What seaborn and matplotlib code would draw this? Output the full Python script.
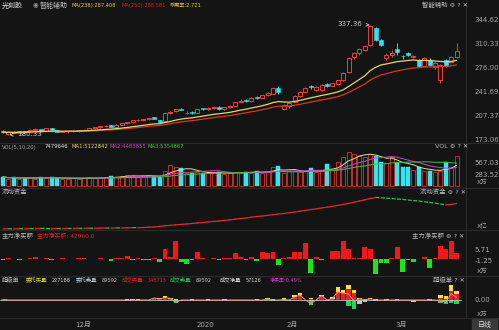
import numpy as np
import pandas as pd
import matplotlib
matplotlib.use("Agg")
import matplotlib.pyplot as plt
from matplotlib.patches import Rectangle
from matplotlib.lines import Line2D
import seaborn as sns

# ---------------- data ----------------
opens = [186.0, 182.0, 185.0, 183.5, 186.0, 184.5, 187.5, 188.5, 186.5, 189.5,
         187.0, 184.5, 185.5, 186.0, 186.5, 187.0, 188.0, 190.0, 191.0, 192.5,
         194.5, 192.0, 195.0, 197.0, 198.5, 201.0, 201.5, 202.5, 205.5, 201.0,
         199.5, 212.0, 214.0, 218.0, 211.5, 213.0, 211.5, 218.5, 217.0, 219.5,
         220.5, 217.0, 220.0, 222.0, 227.0, 230.0, 228.5, 235.0, 233.0, 237.0,
         239.5, 247.5, 217.5, 222.0, 228.0, 236.0, 242.0, 250.0, 245.0, 244.0,
         253.0, 250.5, 252.5, 259.0, 270.0, 291.0, 297.0, 302.0, 309.0, 333.0,
         316.0, 290.0, 294.5, 303.0, 293.5, 297.0, 292.0, 287.5, 279.0, 288.0,
         277.0, 258.5, 287.0, 285.0, 292.0]
highs = [187.0, 184.5, 185.5, 186.0, 186.5, 188.5, 189.5, 189.0, 190.5, 190.0,
         187.5, 186.5, 186.5, 187.0, 187.5, 188.5, 190.5, 192.0, 193.0, 194.0,
         195.0, 195.5, 197.5, 199.0, 201.5, 202.5, 203.0, 205.0, 206.5, 202.0,
         212.5, 215.0, 218.0, 219.5, 214.5, 214.0, 217.5, 219.5, 220.0, 221.0,
         221.0, 220.5, 222.5, 227.5, 232.0, 231.0, 234.0, 236.0, 237.5, 242.0,
         248.5, 250.0, 224.0, 227.0, 237.0, 243.0, 249.0, 251.5, 250.0, 252.5,
         254.0, 255.0, 259.5, 270.0, 291.0, 299.0, 305.0, 309.5, 337.36, 335.0,
         318.0, 297.0, 301.0, 311.0, 295.0, 298.5, 294.5, 289.0, 291.0, 290.0,
         284.0, 281.5, 289.0, 293.0, 311.5]
lows = [183.0, 180.33, 182.5, 183.0, 183.5, 184.0, 186.5, 186.0, 186.0, 186.5,
        184.0, 184.0, 183.5, 184.5, 185.0, 186.0, 187.5, 189.0, 190.0, 191.5,
        191.5, 191.5, 194.5, 196.0, 198.0, 199.5, 200.5, 202.0, 203.0, 197.5,
        198.5, 210.5, 213.0, 215.5, 210.0, 210.5, 211.0, 216.0, 216.5, 218.0,
        216.5, 216.5, 219.0, 221.0, 226.0, 227.5, 228.0, 232.0, 232.5, 236.0,
        238.5, 239.0, 215.5, 219.5, 227.0, 235.0, 241.0, 246.0, 243.5, 243.0,
        249.5, 250.0, 251.5, 258.0, 269.0, 289.0, 295.0, 300.5, 308.0, 315.0,
        307.0, 288.0, 292.0, 294.0, 289.0, 293.0, 290.0, 278.0, 277.0, 279.5,
        275.0, 254.0, 277.0, 283.0, 290.0]
closes = [184.0, 184.0, 183.5, 185.5, 184.0, 188.0, 188.5, 186.5, 189.5, 187.0,
          184.5, 186.0, 186.0, 186.5, 187.0, 188.0, 190.0, 191.0, 192.5, 193.5,
          192.0, 195.0, 197.0, 198.5, 201.0, 201.5, 202.5, 204.5, 203.5, 199.0,
          212.0, 213.5, 217.5, 216.0, 212.0, 211.5, 217.0, 217.0, 219.5, 220.5,
          217.0, 220.0, 222.0, 227.0, 229.5, 228.5, 233.5, 233.0, 237.0, 240.5,
          247.5, 241.0, 222.5, 225.5, 236.0, 242.0, 248.0, 248.5, 249.0, 251.5,
          250.5, 254.0, 259.0, 269.5, 290.0, 297.5, 303.0, 308.0, 336.0, 316.5,
          309.0, 294.0, 298.0, 298.5, 292.5, 294.5, 293.5, 279.5, 290.0, 280.5,
          283.0, 280.5, 278.5, 291.5, 300.0]
volume = [230, 180, 210, 170, 200, 220, 180, 230, 200, 210,
          190, 170, 180, 190, 180, 200, 210, 190, 200, 210,
          240, 230, 250, 280, 250, 230, 240, 270, 250, 230,
          360, 520, 480, 440, 330, 330, 340, 330, 330, 310,
          340, 300, 320, 350, 330, 340, 330, 360, 330, 340,
          480, 490, 330, 360, 370, 350, 360, 440, 340, 360,
          540, 400, 590, 720, 850, 800, 750, 720, 800, 750,
          590, 570, 720, 570, 460, 460, 400, 460, 380, 360,
          350, 380, 590, 480, 748]
flow = [0.0, 0.3, 0.1, 0.4, 0.2, 0.5, 0.4, 0.6, 0.5, 0.3,
        0.5, 0.4, 0.6, 0.5, 0.7, 0.6, 0.8, 0.7, 0.9, 1.0,
        0.9, 1.1, 1.0, 1.2, 1.3, 1.2, 1.5, 1.8, 2.0, 2.6,
        3.2, 3.6, 4.2, 4.6, 5.0, 5.5, 6.0, 6.4, 7.0, 7.6,
        8.0, 8.6, 9.2, 9.8, 10.5, 11.0, 11.8, 12.5, 13.0, 13.6,
        14.3, 15.0, 15.5, 16.2, 17.0, 17.8, 18.6, 19.4, 20.2, 21.0,
        21.8, 22.6, 23.6, 24.6, 25.6, 26.8, 28.0, 29.2, 30.5, 31.5,
        31.2, 30.8, 30.5, 30.0, 29.6, 29.0, 28.5, 28.0, 27.2, 26.5,
        25.8, 25.0, 24.2, 24.6, 25.4]
net_buy = [-0.9, 0.6, -0.5, -0.8, -0.6, 0.3, 0.8, -0.6, 0.2, -1.2,
           -0.5, 0.2, -0.3, -0.3, 0.3, 0.1, -0.3, -0.3, 0.2, -0.4,
           -1.3, 0.3, 0.5, 1.4, -0.8, 0.3, -1.2, -1.0, 0.2, -2.0,
           6.0, 1.0, 10.8, -2.4, -3.4, -1.0, 4.0, 0.3, -0.4, 0.2,
           -1.2, 0.3, 0.2, 3.6, 1.0, -0.8, 0.8, -1.8, 4.0, 3.5,
           4.0, -4.2, 0.5, 0.8, 4.0, 4.0, 9.6, -9.0, 0.8, -1.2,
           -0.6, 4.6, 4.6, 10.6, 6.0, 0.4, 0.5, 7.0, 6.0, -9.6,
           -3.0, -3.0, 0.4, 7.0, -8.4, -1.0, -2.0, -0.6, 1.2, -6.0,
           0.3, 7.8, 6.0, 10.8, 3.6]
order_buy = [2.4, 0, 0, 0, 0, 0, 0, 0, 0, 1.2,
             0, 0, 0, 0, 0, 0, 0, 0, 0, 0,
             0, 0, 0, 3.6, 3.6, 2.4, 0, 0, 6.0, 4.8,
             10.8, 4.8, 3.6, 0, 0, 1.9, 0, 0, 1.9, 0,
             0, 1.9, 0, 0, 0, 0, 0, 1.9, 0, 6.0,
             3.6, 0, 4.3, 0, 13.2, 18.0, 0, 4.8, 0, 12.0,
             0, 7.2, 31.2, 24.0, 37.2, 24.0, 6.0, 3.6, 4.8, 2.4,
             0, 1.9, 0, 1.9, 0, 0, 0, 0, 0, 2.4,
             0, 13.2, 9.6, 36.0, 22.72]
order_sell = [0, 0, 0, 0, 0, 0, 0, 0, 0, 0,
              0, 0, 0, 0, 0, 0, 0, 0, 0, 0,
              0, 0, 0, -1.2, 0, 0, 0, 0, 0, 0,
              0, 0, -3.6, -2.4, 0, 0, 0, 0, 0, 0,
              0, 0, 0, 0, 0, 0, 0, 0, 0, 0,
              -1.2, 0, 0, -1.2, 0, 0, 0, 0, -2.4, 0,
              -2.4, 0, 0, 0, 0, 0, -8.4, -4.8, 0, -1.9,
              0, 0, 0, 0, 0, 0, -3.6, 0, 0, 0,
              0, 0, 0, 0, -8.96]
deal_buy = [1.7, 0, 0, 0, 0, 0, 0, 0, 0, 0,
            0, 0, 0, 0, 0, 0, 0, 0, 0, 0,
            0, 0, 0, 0, 0, 0, 0, 0, 4.8, 2.4,
            6.0, 3.6, 1.2, 0, 0, 0, 0, 0, 0, 0,
            0, 0, 0, 0, 0, 0, 0, 0, 0, 2.4,
            0, 0, 1.2, 0, 7.2, 12.0, 0, 2.4, 0, 10.8,
            0, 3.6, 19.2, 16.8, 27.6, 16.8, 3.6, 0, 3.6, 0,
            0, 0, 0, 0, 0, 0, 0, 0, 0, 0,
            0, 6.0, 3.6, 22.8, 14.87]
deal_sell = [0, 0, 0, 0, 0, 0, 0, 0, 0, 0,
             0, 0, 0, 0, 0, 0, 0, 0, 0, 0,
             0, 0, 0, 0, 0, 0, 0, 0, 0, 0,
             0, 0, -7.2, 0, 0, 0, 0, 0, 0, 0,
             0, 0, 0, 0, 0, 0, 0, 0, 0, 0,
             0, 0, 0, 0, 0, 0, 0, -10.8, 0, 0,
             0, 0, 0, 0, -13.2, -20.4, 0, 0, 0, 0,
             0, 0, 0, 0, 0, 0, 0, 0, 0, 0,
             0, -7.2, -9.6, -7.2, -8.96]

price_ticks = [173.06, 207.37, 241.69, 276.00, 310.33, 344.62]
vol_ticks = [283.52, 567.03]
net_ticks = [5.71, -1.25]
month_labels = ["12月", "2020", "2月", "3月"]
month_pos = [14.8, 37.4, 53.5, 73.8]

# ---------------- style ----------------
sns.set_theme(style="dark")
plt.rcParams["font.family"] = ["DejaVu Sans", "Noto Sans CJK SC"]
BG = "#141414"
RED = "#e8413a"
CYAN = "#2fe6f2"
GRAY = "#a8a8a8"
LINE = "#2b2b2b"
W, H = 499, 330

fig = plt.figure(figsize=(W / 100, H / 100), dpi=100, facecolor=BG)

def add_ax(y0, y1, x0=0, x1=462):
    ax = fig.add_axes([x0 / W, 1 - y1 / H, (x1 - x0) / W, (y1 - y0) / H])
    ax.set_facecolor(BG)
    for s in ax.spines.values():
        s.set_visible(False)
    ax.set_xlim(-0.556, 85.0)
    ax.set_xticks([])
    ax.yaxis.tick_right()
    ax.tick_params(axis="y", length=0, labelsize=5, labelcolor=GRAY, pad=9)
    ax.grid(False)
    return ax

def ftext(x, y, s, color=GRAY, size=4.6, ha="left", **kw):
    fig.text(x / W, 1 - y / H, s, color=color, fontsize=size, ha=ha, va="center", **kw)

idx = np.arange(len(closes))
o = np.array(opens); c = np.array(closes); hi = np.array(highs); lo = np.array(lows)
up = c >= o
blo = np.minimum(o, c); bhi = np.maximum(o, c)
bh = np.maximum(bhi - blo, 0.5)

# ---------------- price panel ----------------
ax = add_ax(12, 142)
ax.set_ylim(170.2, 356.0)
ax.vlines(idx[~up], lo[~up], hi[~up], color=CYAN, lw=0.7)
ax.bar(idx[~up], bh[~up], bottom=blo[~up], width=0.72, color=CYAN, edgecolor=CYAN, lw=0.4)
ax.vlines(idx[up], bhi[up], hi[up], color=RED, lw=0.7)
ax.vlines(idx[up], lo[up], blo[up], color=RED, lw=0.7)
ax.bar(idx[up], bh[up], bottom=blo[up], width=0.72, facecolor=BG, edgecolor=RED, lw=0.7)
cs = pd.Series(closes)
ma_fast = cs.ewm(span=18, adjust=False).mean()
ma_slow = cs.ewm(span=28, adjust=False).mean()
sns.lineplot(x=idx, y=ma_slow.values, ax=ax, color="#d8361f", lw=0.9)
sns.lineplot(x=idx, y=ma_fast.values, ax=ax, color="#e6d46a", lw=0.9)
ax.set_yticks(price_ticks)
ax.set_yticklabels([f"{v:.2f}" for v in price_ticks])
ax.set_xlabel(""); ax.set_ylabel("")
ax.annotate("337.36", xy=(67.9, 337.36), xytext=(66.6, 339.5), color="#c8c8c8",
            fontsize=5, ha="right", va="center",
            arrowprops=dict(arrowstyle="->", color="#c8c8c8", lw=0.6))
ax.annotate("180.33", xy=(1.2, 180.33), xytext=(2.6, 181.2), color="#c8c8c8",
            fontsize=5, ha="left", va="center",
            arrowprops=dict(arrowstyle="->", color="#c8c8c8", lw=0.6))

# ---------------- volume panel ----------------
axv = add_ax(143, 188)
axv.set_ylim(-49.3, 1060)
vol = np.array(volume, dtype=float)
axv.bar(idx[~up], vol[~up], width=0.72, color=CYAN, edgecolor=CYAN, lw=0.3)
axv.bar(idx[up], vol[up], width=0.72, facecolor=BG, edgecolor="#b8322c", lw=0.7)
vs = pd.Series(volume, dtype=float)
sns.lineplot(x=idx, y=vs.rolling(5, min_periods=1).mean().values, ax=axv, color="#e8dc8a", lw=0.7)
sns.lineplot(x=idx, y=vs.rolling(10, min_periods=1).mean().values, ax=axv, color="#d040d0", lw=0.7)
sns.lineplot(x=idx, y=vs.rolling(20, min_periods=1).mean().values, ax=axv, color="#40c040", lw=0.7)
axv.set_yticks(vol_ticks)
axv.set_yticklabels([f"{v:.2f}" for v in vol_ticks])
axv.set_xlabel(""); axv.set_ylabel("")

# ---------------- flow panel ----------------
axf = add_ax(188, 230)
axf.set_ylim(-1, 41)
axf.set_yticks([])
fl = np.array(flow)
for i in range(len(fl) - 1):
    rising = fl[i + 1] >= fl[i]
    axf.plot(idx[i:i + 2], fl[i:i + 2], color="#e02a2a" if rising else "#1fc94a",
             lw=0.9, ls="-" if rising else (0, (3, 1.2)))

# ---------------- net buy panel ----------------
axn = add_ax(230, 276)
axn.set_ylim(-10.85, 17.67)
nb = np.array(net_buy)
axn.bar(idx, nb, width=0.9, color=np.where(nb > 0, "#f01818", "#19e619"), lw=0)
axn.set_yticks(net_ticks)
axn.set_yticklabels([f"{v:.2f}" for v in net_ticks])

# ---------------- super order panel ----------------
axs = add_ax(276, 318)
axs.set_ylim(-43.2, 57.6)
axs.bar(idx, order_buy, width=0.8, color="#f2e23a", lw=0)
axs.bar(idx, deal_buy, width=0.8, color="#e02424", lw=0)
axs.bar(idx, order_sell, width=0.8, color="#b9cad8", lw=0)
axs.bar(idx, deal_sell, width=0.8, color="#22d45a", lw=0)
axs.axhline(0, color="#c0c0c0", lw=0.6)
net_deal = np.array(deal_buy) + np.array(deal_sell)
sns.lineplot(x=idx, y=net_deal, ax=axs, color="#ff8a8a", lw=0.7)
axs.set_yticks([0])
axs.set_yticklabels(["0.00"])
axs.set_xlabel(""); axs.set_ylabel("")

# ---------------- bottom axis ----------------
axb = add_ax(318, 330)
axb.set_ylim(0, 1)
axb.set_yticks([])
for lab, p in zip(month_labels, month_pos):
    axb.text(p, 0.45, lab, color=GRAY, fontsize=5, ha="center", va="center")

# separators
for y in [143, 188, 230, 276, 318]:
    fig.add_artist(Line2D([0, 1], [1 - y / H, 1 - y / H], color=LINE, lw=0.8))
fig.add_artist(Line2D([466 / W, 466 / W], [1 - 318 / H, 1], color=LINE, lw=0.8))
fig.add_artist(Rectangle((472 / W, 0.0), 25 / W, 11 / H, color="#3a3a3a"))
ftext(484.5, 325, "日线", color="#e0e0e0", size=5, ha="center")

# ---------------- header texts ----------------
ftext(2, 5, "光刻胶", color="#e6e6e6", size=5)
ftext(35.5, 5, "◉", color="#9a9a9a", ha="center")
ftext(40, 5, "智能辅助", color="#bdbdbd", size=5)
ftext(72, 5, "MA(238):287.408", color="#e2cf3c", size=3.7)
ftext(121, 5, "MA(250):288.581", color="#d2261e", size=3.7)
ftext(170, 5, "乖离率:2.721", color="#e2cf3c", size=3.7)
ftext(422, 5, "智能辅助 ⚙ ? ✕", color="#bdbdbd")

ftext(2, 147, "VOL(5,10,20)", color=GRAY, size=3.8)
ftext(45, 147, "7479646", color="#e6e6e6", size=3.8)
ftext(72, 147, "MA1:5122842", color="#e2d45a", size=3.8)
ftext(110, 147, "MA2:4483855", color="#cf3ccf", size=3.8)
ftext(148, 147, "MA3:5354867", color="#3cc23c", size=3.8)
ftext(435, 147, "VOL ⚙ ? ✕", color="#bdbdbd")
ftext(477, 182, "X万", color=GRAY)

ftext(2, 192, "流动资金", color="#bdbdbd")
ftext(420, 192, "流动资金 ⚙ ? ✕", color="#bdbdbd")
ftext(477, 226, "X亿", color=GRAY)

ftext(2, 236, "主力净买额", color="#bdbdbd")
ftext(37, 236, "主力净买额: 42960.0", color="#e82020", size=4.2)
ftext(412, 236, "主力净买额 ⚙ ? ✕", color="#bdbdbd")
ftext(477, 271, "X万", color=GRAY)

ftext(2, 280, "超级单", color="#bdbdbd", size=4.2)
ftext(26, 280, "委托买量", color="#e2d43c", size=3.9)
ftext(52, 280, "227188", color="#e0e0e0", size=3.6)
ftext(76, 280, "委托卖量", color="#b9cad8", size=3.9)
ftext(102, 280, "89592", color="#c8c8c8", size=3.6)
ftext(122, 280, "成交买量", color="#e02424", size=3.9)
ftext(147, 280, "148713", color="#e02424", size=3.6)
ftext(170, 280, "成交卖量", color="#22c450", size=3.9)
ftext(196, 280, "89592", color="#c8c8c8", size=3.6)
ftext(220, 280, "成交净量", color="#d8d8d8", size=3.9)
ftext(246, 280, "57126", color="#e0e0e0", size=3.6)
ftext(270, 280, "净买率:0.49%", color="#d040d0", size=3.6)
ftext(433, 280, "超级单 ? ✕", color="#bdbdbd")
ftext(477, 314, "X万", color=GRAY)

fig.savefig("out.png", dpi=100, facecolor=BG)
